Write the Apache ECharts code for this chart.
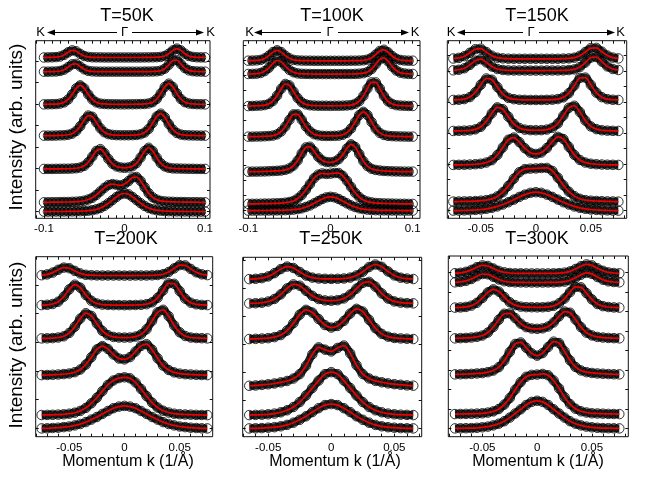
<!DOCTYPE html>
<html><head><meta charset="utf-8">
<script src="https://cdn.jsdelivr.net/npm/echarts@6/dist/echarts.min.js"></script>
<style>html,body{margin:0;padding:0;background:#fff}#c{width:648px;height:478px}</style>
</head><body><div id="c"></div>
<script>
// momentum sample grids (1/Å)
const k100 = [-0.1,-0.095,-0.09,-0.085,-0.08,-0.075,-0.07,-0.065,-0.06,-0.055,-0.05,-0.045,-0.04,-0.035,-0.03,-0.025,-0.02,-0.015,-0.01,-0.005,0,0.005,0.01,0.015,0.02,0.025,0.03,0.035,0.04,0.045,0.05,0.055,0.06,0.065,0.07,0.075,0.08,0.085,0.09,0.095,0.1];
const k75 = [-0.075,-0.07,-0.065,-0.06,-0.055,-0.05,-0.045,-0.04,-0.035,-0.03,-0.025,-0.02,-0.015,-0.01,-0.005,0,0.005,0.01,0.015,0.02,0.025,0.03,0.035,0.04,0.045,0.05,0.055,0.06,0.065,0.07,0.075];
const k65 = [-0.065,-0.06,-0.055,-0.05,-0.045,-0.04,-0.035,-0.03,-0.025,-0.02,-0.015,-0.01,-0.005,0,0.005,0.01,0.015,0.02,0.025,0.03,0.035,0.04,0.045,0.05,0.055,0.06,0.065];

// MDC intensities (arb. units) above each curve's offset, top curve first
const i50 = [
 [0.1,0.2,0.3,0.5,1.1,2.7,5.3,7.2,6.3,3.7,1.6,0.7,0.3,0.2,0.2,0.1,0.1,0.1,0.1,0.1,0.1,0.1,0.1,0.1,0.1,0.2,0.2,0.3,0.4,0.7,1.6,3.9,7.2,9,7.2,3.9,1.6,0.7,0.3,0.2,0.2],
 [0.2,0.2,0.3,0.4,0.9,2.2,4.8,7.6,8.0,5.4,2.6,1.0,0.5,0.3,0.2,0.2,0.2,0.2,0.2,0.2,0.2,0.2,0.2,0.2,0.2,0.3,0.3,0.4,0.6,1.2,3.2,7.1,11.3,11.9,7.9,3.8,1.5,0.7,0.4,0.3,0.2],
 [0.4,0.5,0.6,0.7,1.2,2.4,5.3,10.4,16.4,19.4,16.4,10.4,5.3,2.4,1.2,0.8,0.6,0.5,0.5,0.4,0.4,0.5,0.5,0.6,0.7,0.8,1.3,2.6,5.8,11.3,17.8,21.1,17.8,11.3,5.8,2.6,1.3,0.8,0.6,0.5,0.4],
 [0.4,0.4,0.4,0.5,0.7,0.8,1.3,2.4,5.1,9.8,16.0,20.5,19.3,13.7,7.8,3.8,1.9,1.2,0.9,0.8,0.8,0.8,0.9,1.1,1.8,3.5,7.1,13.1,19.6,22.4,18.8,12.1,6.5,3.1,1.5,0.9,0.7,0.6,0.5,0.4,0.4],
 [0.3,0.3,0.3,0.4,0.4,0.5,0.5,0.7,1.0,1.7,3.4,7.0,12.6,18.3,20.1,16.2,10.3,5.5,2.8,1.8,1.4,1.8,3.0,6.1,11.7,18.2,21.5,18.2,11.6,6.0,2.8,1.4,0.8,0.7,0.6,0.5,0.4,0.4,0.3,0.3,0.3],
 [0.3,0.3,0.4,0.4,0.5,0.6,0.6,0.8,0.9,1.3,1.9,3.1,4.8,7.7,11.2,14.8,17.6,18.5,17.9,17.2,18.6,21.5,25.2,25.6,21.7,15.4,9.4,5.3,3.0,1.7,1.2,0.9,0.8,0.6,0.6,0.5,0.4,0.4,0.4,0.3,0.3],
 [0.2,0.2,0.3,0.3,0.3,0.3,0.4,0.4,0.5,0.6,0.8,1.1,1.6,2.5,3.8,5.9,8.6,11.7,14.8,17.5,18.3,17.5,14.8,11.7,8.6,5.9,3.8,2.5,1.6,1.1,0.8,0.6,0.5,0.4,0.4,0.3,0.3,0.3,0.3,0.2,0.2]
];
const i100 = [
 [0.3,0.4,0.6,1.1,2.6,5.4,8.9,10.7,8.9,5.4,2.7,1.1,0.6,0.4,0.3,0.3,0.2,0.2,0.2,0.2,0.2,0.2,0.2,0.2,0.2,0.3,0.3,0.4,0.7,1.4,3.2,6.4,10.0,11.2,8.7,5.0,2.3,1.0,0.5,0.3,0.3],
 [0.4,0.5,0.7,1.4,3.3,6.6,11.0,13.9,12.5,8.4,4.5,2.1,1.0,0.6,0.5,0.4,0.3,0.3,0.3,0.3,0.3,0.3,0.3,0.4,0.4,0.4,0.5,0.7,1.2,2.4,5.3,10.1,15.0,16.6,13.2,7.8,3.9,1.7,0.9,0.5,0.4],
 [0.4,0.5,0.7,0.9,1.4,2.6,5.5,10.8,17.7,22.5,21.1,14.9,8.5,4.2,2.1,1.2,0.9,0.7,0.7,0.7,0.6,0.7,0.7,0.8,1.0,1.4,2.6,5.3,10.6,18.0,24.1,24.1,17.9,10.5,5.2,2.5,1.3,0.9,0.7,0.5,0.5],
 [0.4,0.4,0.5,0.6,0.8,1.0,1.5,2.7,5.6,10.5,17.2,22.7,22.7,17.3,10.6,5.8,2.9,1.7,1.2,1.1,1.1,1.2,1.4,2.3,4.3,8.5,15.0,22.0,25.2,22.0,15.0,8.4,4.1,2.1,1.2,0.9,0.7,0.6,0.5,0.4,0.4],
 [0.4,0.5,0.5,0.6,0.7,0.9,1.1,1.3,1.6,2.3,3.7,6.6,11.6,18.8,24.7,25.4,20.9,15.4,11.7,10.1,9.8,10.5,13.0,17.5,23.7,27.8,25.2,18.1,10.9,6.0,3.3,2.2,1.6,1.2,1.0,0.8,0.7,0.6,0.5,0.5,0.5],
 [0.4,0.5,0.5,0.6,0.7,0.7,0.9,1.0,1.2,1.6,2.3,3.4,5.8,9.3,14.4,20.2,26.1,29.7,30.9,30.4,30.7,31.3,31.3,28.5,23.5,17.4,11.5,7.2,4.3,2.7,1.9,1.3,1.1,0.9,0.8,0.7,0.6,0.5,0.5,0.4,0.4],
 [0.2,0.2,0.2,0.3,0.3,0.3,0.4,0.4,0.5,0.6,0.8,1.2,1.7,2.5,3.8,5.4,7.5,9.7,11.8,13.4,14,13.4,11.8,9.7,7.5,5.4,3.8,2.5,1.7,1.2,0.8,0.6,0.5,0.4,0.4,0.3,0.3,0.3,0.2,0.2,0.2]
];
const i150 = [
 [0.6,1.2,2.9,6.3,9.9,10.4,7.0,3.4,1.4,0.7,0.4,0.3,0.3,0.3,0.3,0.3,0.3,0.3,0.3,0.3,0.5,0.7,1.4,3.3,7.1,11.0,11.2,7.4,3.6,1.5,0.7],
 [0.6,1.1,2.6,6.0,10.2,11.7,8.5,4.4,1.9,0.9,0.5,0.4,0.4,0.4,0.3,0.3,0.3,0.4,0.4,0.4,0.5,0.8,1.5,3.8,8.3,13.3,13.9,9.3,4.5,1.9,0.9],
 [0.7,0.9,1.6,3.6,8.4,16.0,22.2,20.9,13.6,6.6,2.8,1.5,0.9,0.8,0.7,0.7,0.7,0.8,1.0,1.6,3.3,7.5,15.1,22.7,23.1,15.8,8.1,3.5,1.5,0.9,0.7],
 [0.6,0.7,0.9,1.2,2.2,4.8,10.3,18.3,24.2,22.3,14.9,7.6,3.6,1.9,1.4,1.3,1.4,2.0,3.7,8.1,15.9,23.7,25.8,19.6,11.0,5.1,2.4,1.3,0.9,0.7,0.6],
 [0.7,0.8,0.9,1.1,1.4,1.9,3.1,5.5,10.6,18.3,25.9,28.1,23.5,17.4,13.0,11.7,13.1,17.6,24.0,28.8,26.6,18.8,10.8,5.7,3.1,1.9,1.4,1.1,0.9,0.8,0.7],
 [0.7,0.8,0.9,1.0,1.2,1.6,2.2,3.4,5.9,10.1,16.4,23.6,30.1,33.2,33.7,33.9,34.3,34.4,31.4,24.7,17.1,10.6,6.2,3.5,2.2,1.6,1.3,1.1,0.9,0.8,0.7],
 [0.6,0.6,0.8,1.0,1.3,1.7,2.4,3.4,4.8,6.7,9.0,11.6,14.3,16.6,18.4,19,18.4,16.6,14.3,11.6,9.0,6.7,4.8,3.4,2.4,1.7,1.3,1.0,0.8,0.6,0.6]
];
const i200 = [
 [0.6,1.4,3.2,6.0,8.2,7.6,4.9,2.4,1.0,0.6,0.4,0.3,0.3,0.3,0.3,0.2,0.2,0.3,0.3,0.3,0.5,0.8,1.6,3.8,7.4,10.7,10.4,6.9,3.5,1.5,0.7],
 [0.7,1.0,1.8,4.1,9.1,16.4,21.1,18.1,10.8,5.1,2.3,1.2,0.9,0.7,0.7,0.6,0.7,0.8,1.0,1.6,3.5,8.0,15.4,22.5,22.0,14.7,7.2,3.1,1.5,0.9,0.7],
 [0.7,0.8,1.0,1.6,2.8,6.2,12.4,20.5,25.9,23.2,15.5,8.2,4.0,2.2,1.6,1.5,1.6,2.5,4.7,9.8,18.2,26.8,29.3,22.9,13.7,6.8,3.1,1.6,1.1,0.9,0.7],
 [0.8,0.9,1.1,1.4,1.8,2.4,3.7,6.4,11.4,18.7,26.5,29.8,26.9,21.4,17.4,16.5,18.8,24.4,30.0,31.7,26.2,17.6,10.3,5.9,3.5,2.3,1.7,1.4,1.1,0.9,0.8],
 [0.8,0.9,1.0,1.2,1.5,2.1,3.1,4.9,7.9,12.5,18.1,24.7,30.9,35.3,37.7,38.5,37.5,33.3,26.8,19.7,13.2,8.3,5.1,3.3,2.1,1.6,1.3,1.1,0.9,0.8,0.7],
 [0.8,0.9,1.2,1.5,2.1,2.7,3.8,5.2,7.1,9.6,12.2,15.3,18.2,21.0,22.6,23.3,22.6,21.0,18.2,15.3,12.2,9.6,7.1,5.2,3.8,2.7,2.1,1.5,1.2,0.9,0.8]
];
const i250 = [
 [0.5,0.8,1.5,3.2,6.5,10.5,13.0,11.6,7.7,4.1,2.0,1.1,0.8,0.7,0.8,1.1,2.0,4.2,7.9,12.6,15.1,12.8,8.2,4.2,1.9,1.0,0.6],
 [0.7,0.9,1.4,2.6,5.2,9.8,15.7,19.7,18.4,13.3,8.3,5.1,3.7,3.4,3.9,5.7,9.5,15.5,21.2,22.2,17.5,10.7,5.6,2.7,1.5,1.0,0.8],
 [0.9,1.1,1.4,1.8,2.8,4.9,9.4,16.8,25.3,30.1,27.4,20.9,14.9,12.4,14.0,19.0,26.3,31.1,28.3,20.1,11.7,6.1,3.3,2.0,1.5,1.2,0.9],
 [1.3,1.6,2.2,2.8,3.6,4.7,6.1,8.5,12.9,21.3,32.7,39.7,37.4,35.6,39.1,41.5,33.7,21.9,13.0,8.6,6.2,4.8,3.7,2.9,2.3,1.7,1.4],
 [1.1,1.3,1.5,1.9,2.6,3.9,5.9,9.2,14.1,20.7,28.2,35.6,42,44,42,35.6,28.2,20.7,14.1,9.2,5.9,3.9,2.6,1.9,1.5,1.3,1.1],
 [0.7,0.8,1.0,1.4,1.9,2.8,4.2,6.4,9.3,12.8,17,20.9,24,25,24,20.9,17,12.8,9.3,6.4,4.2,2.8,1.9,1.4,1.0,0.8,0.7]
];
const i300 = [
 [0.5,0.9,1.9,3.8,6.5,8.3,7.7,5.2,2.8,1.4,0.7,0.4,0.4,0.3,0.3,0.3,0.3,0.3,0.4,0.6,1.1,2.3,4.7,7.5,9.3,8.3,5.4,2.9,1.3,0.7,0.4],
 [0.5,0.9,1.9,3.8,6.6,8.8,8.5,6.0,3.3,1.6,0.8,0.5,0.4,0.3,0.3,0.3,0.3,0.4,0.4,0.7,1.2,2.5,5.0,8.1,10.0,8.9,5.8,3.1,1.5,0.8,0.5],
 [0.6,0.8,1.3,2.6,5.4,10.2,15.8,18.9,16.6,11.2,6.0,3.1,1.6,1.1,1.0,0.9,1.0,1.4,2.4,5.0,9.7,16.1,21.3,20.9,15.1,8.8,4.2,2.1,1.2,0.8,0.6],
 [0.8,1.0,1.2,1.6,2.3,3.6,6.6,12.2,19.4,25.4,25.7,21.0,15.5,12.0,10.6,10.3,10.8,12.6,16.7,22.8,27.6,26.4,19.6,12.0,6.5,3.7,2.2,1.6,1.2,1.0,0.8],
 [0.7,0.8,1.0,1.2,1.6,2.0,2.9,4.5,7.9,14.3,23.1,31.1,32.6,27.3,21.7,19.4,22.0,28.0,33.4,32.0,23.7,14.7,8.1,4.6,2.9,2.1,1.6,1.3,1.0,0.8,0.7],
 [0.8,0.9,1.0,1.1,1.3,1.6,2.3,3.5,5.9,10.3,16.8,25.2,32.8,38.1,40.0,40.3,40.9,39.6,34.4,26.5,17.7,10.8,6.2,3.6,2.4,1.6,1.4,1.2,1.0,0.9,0.8],
 [0.7,0.8,0.9,1.0,1.3,1.8,2.5,3.7,5.4,7.9,11.5,15.6,19.8,24.1,27.2,28.3,27.2,24.1,19.8,15.6,11.5,7.9,5.4,3.7,2.5,1.8,1.3,1.0,0.9,0.8,0.7]
];

// vertical offsets of the stacked curves
const off50  = [154.1, 139.8, 106.9, 75.6, 42.4, 9.0, -0.2];
const off100 = [149.7, 136.3, 104.2, 73.6, 38.5, 6.3, -0.2];
const off150 = [151.6, 139.8, 110.0, 79.1, 45.0, 8.3, -0.6];
const off200 = [152.6, 122.6, 89.3, 52.5, 12.6, -0.8];
const off250 = [148.7, 124.2, 88.4, 41.3, 12.2, -0.7];
const off300 = [154.6, 145.5, 120.1, 89.2, 53.3, 13.5, -0.7];

// text
const temps = ['T=50K', 'T=100K', 'T=150K', 'T=200K', 'T=250K', 'T=300K'];
const xTickLabelsWide = [-0.1, 0, 0.1];
const xTickLabelsNarrow = [-0.05, 0, 0.05];
const yName = 'Intensity (arb. units)';
const xName = 'Momentum k (1/Å)';

const panelData = [
  {k: k100, ints: i50,  off: off50,  labels: xTickLabelsWide},
  {k: k100, ints: i100, off: off100, labels: xTickLabelsWide},
  {k: k75,  ints: i150, off: off150, labels: xTickLabelsNarrow},
  {k: k75,  ints: i200, off: off200, labels: xTickLabelsNarrow},
  {k: k65,  ints: i250, off: off250, labels: xTickLabelsNarrow},
  {k: k75,  ints: i300, off: off300, labels: xTickLabelsNarrow}
];

// layout (pixels / axis extents)
const layout = [
  {left:35.7,  top:40.7,  width:174.3, height:177.6, xmin:-0.1103, xmax:0.1062, ymin:-6.7, ymax:171,   ystep:21.5, tx:127, ty:16},
  {left:243.3, top:40.7,  width:176.7, height:177.6, xmin:-0.1061, xmax:0.1089, ymin:-7.7, ymax:170,   ystep:15,   tx:332, ty:16},
  {left:447.3, top:40.7,  width:179.4, height:177.6, xmin:-0.0805, xmax:0.0826, ymin:-7.7, ymax:170,   ystep:15.5, tx:537, ty:16},
  {left:35.7,  top:256.7, width:177,   height:180,   xmin:-0.0804, xmax:0.0799, ymin:-8.3, ymax:171.7, ystep:28.7, tx:126, ty:239},
  {left:242.7, top:257.3, width:179,   height:179.4, xmin:-0.0702, xmax:0.0717, ymin:-8.3, ymax:171,   ystep:28,   tx:331, ty:239},
  {left:448.3, top:256,   width:180,   height:180.7, xmin:-0.0811, xmax:0.0832, ymin:-8.3, ymax:172.3, ystep:19.5, tx:537, ty:239}
];
const arrowRows = [
  {kl:40.5, a0:47,  a1:117, g:124.5, b0:132, b1:204, kr:210.5},
  {kl:249.5,a0:254, a1:321, g:330,   b0:338, b1:409, kr:415},
  {kl:451,  a0:457, a1:523, g:531,   b0:539, b1:615, kr:620.5}
];

const FONT = '"Liberation Sans", Arial, Helvetica, sans-serif';
const chart = echarts.init(document.getElementById('c'), null, {renderer:'canvas', width:648, height:478});
const grids = [], xAxes = [], yAxes = [], bands = [], dots = [], lines = [], graphic = [];
const fmt = v => (Math.abs(v) < 1e-9 ? '0' : String(+v.toFixed(3)));

layout.forEach((L, p) => {
  grids.push({left:L.left, top:L.top, width:L.width, height:L.height, show:true, borderColor:'#111', borderWidth:1, backgroundColor:'transparent'});
  const minor = [];
  for (let i = Math.ceil(L.xmin / 0.01 - 1e-9); i <= Math.floor(L.xmax / 0.01 + 1e-9); i++) minor.push(+(i * 0.01).toFixed(3));
  const yt = [];
  for (let v = 0; v <= L.ymax - 2; v += L.ystep) yt.push(+v.toFixed(2));
  const tick = {show:true, inside:true, length:3, lineStyle:{color:'#111', width:1}};
  const base = {type:'value', gridIndex:p, axisLine:{show:false, onZero:false}, splitLine:{show:false}};
  xAxes.push(Object.assign({}, base, {position:'bottom', min:L.xmin, max:L.xmax,
    axisTick:Object.assign({}, tick, {customValues:minor}),
    axisLabel:{show:true, customValues:panelData[p].labels, formatter:fmt, color:'#000', fontSize:11.5, fontFamily:FONT, margin:5}}));
  xAxes.push(Object.assign({}, base, {position:'top', min:L.xmin, max:L.xmax,
    axisTick:Object.assign({}, tick, {customValues:minor}), axisLabel:{show:false}}));
  yAxes.push(Object.assign({}, base, {position:'left', min:L.ymin, max:L.ymax,
    axisTick:Object.assign({}, tick, {customValues:yt}), axisLabel:{show:false}}));
  yAxes.push(Object.assign({}, base, {position:'right', min:L.ymin, max:L.ymax,
    axisTick:Object.assign({}, tick, {customValues:yt}), axisLabel:{show:false}}));

  const D = panelData[p];
  D.ints.forEach((row, j) => {
    const pts = D.k.map((x, i) => [x, +(D.off[j] + row[i]).toFixed(2)]);
    bands.push({type:'line', xAxisIndex:2*p, yAxisIndex:2*p, data:pts, showSymbol:false, smooth:0.3,
      lineStyle:{color:'#222', width:8}, silent:true, z:1});
    dots.push({type:'scatter', xAxisIndex:2*p, yAxisIndex:2*p, data:pts, symbol:'circle', symbolSize:9.5,
      itemStyle:{color:'rgba(0,0,0,0)', borderColor:'#000', borderWidth:1}, silent:true, z:2});
    lines.push({type:'line', xAxisIndex:2*p, yAxisIndex:2*p, data:pts, showSymbol:false, smooth:0.3,
      lineStyle:{color:'#ee0000', width:1.7}, silent:true, z:3});
  });

  graphic.push({type:'text', x:L.tx, y:L.ty, style:{text:temps[p], font:'18px ' + FONT, fill:'#000', align:'center', verticalAlign:'middle'}});
  if (p >= 3) {
    graphic.push({type:'text', x:[128, 335, 538][p-3], y:462, style:{text:xName, font:'16px ' + FONT, fill:'#000', align:'center', verticalAlign:'middle'}});
  }
});

// Intensity labels
[[17, 127], [17, 345]].forEach(([x, y]) => {
  graphic.push({type:'text', x:x, y:y, rotation:Math.PI/2, style:{text:yName, font:'19px ' + FONT, fill:'#000', align:'center', verticalAlign:'middle'}});
});

// K <-- Γ --> K rows
const ay = 32.5;
arrowRows.forEach(A => {
  graphic.push({type:'text', x:A.kl, y:ay, style:{text:'K', font:'13px ' + FONT, fill:'#000', align:'center', verticalAlign:'middle'}});
  graphic.push({type:'text', x:A.kr, y:ay, style:{text:'K', font:'13px ' + FONT, fill:'#000', align:'center', verticalAlign:'middle'}});
  graphic.push({type:'text', x:A.g, y:ay, style:{text:'Γ', font:'13px ' + FONT, fill:'#000', align:'center', verticalAlign:'middle'}});
  graphic.push({type:'line', shape:{x1:A.a0 + 4, y1:ay, x2:A.a1, y2:ay}, style:{stroke:'#000', lineWidth:1}});
  graphic.push({type:'polygon', shape:{points:[[A.a0, ay], [A.a0 + 8, ay - 3], [A.a0 + 8, ay + 3]]}, style:{fill:'#000'}});
  graphic.push({type:'line', shape:{x1:A.b0, y1:ay, x2:A.b1 - 4, y2:ay}, style:{stroke:'#000', lineWidth:1}});
  graphic.push({type:'polygon', shape:{points:[[A.b1, ay], [A.b1 - 8, ay - 3], [A.b1 - 8, ay + 3]]}, style:{fill:'#000'}});
});

chart.setOption({
  animation:false,
  backgroundColor:'#fff',
  grid:grids, xAxis:xAxes, yAxis:yAxes,
  series:bands.concat(dots, lines),
  graphic:graphic
});
</script>
</body></html>
